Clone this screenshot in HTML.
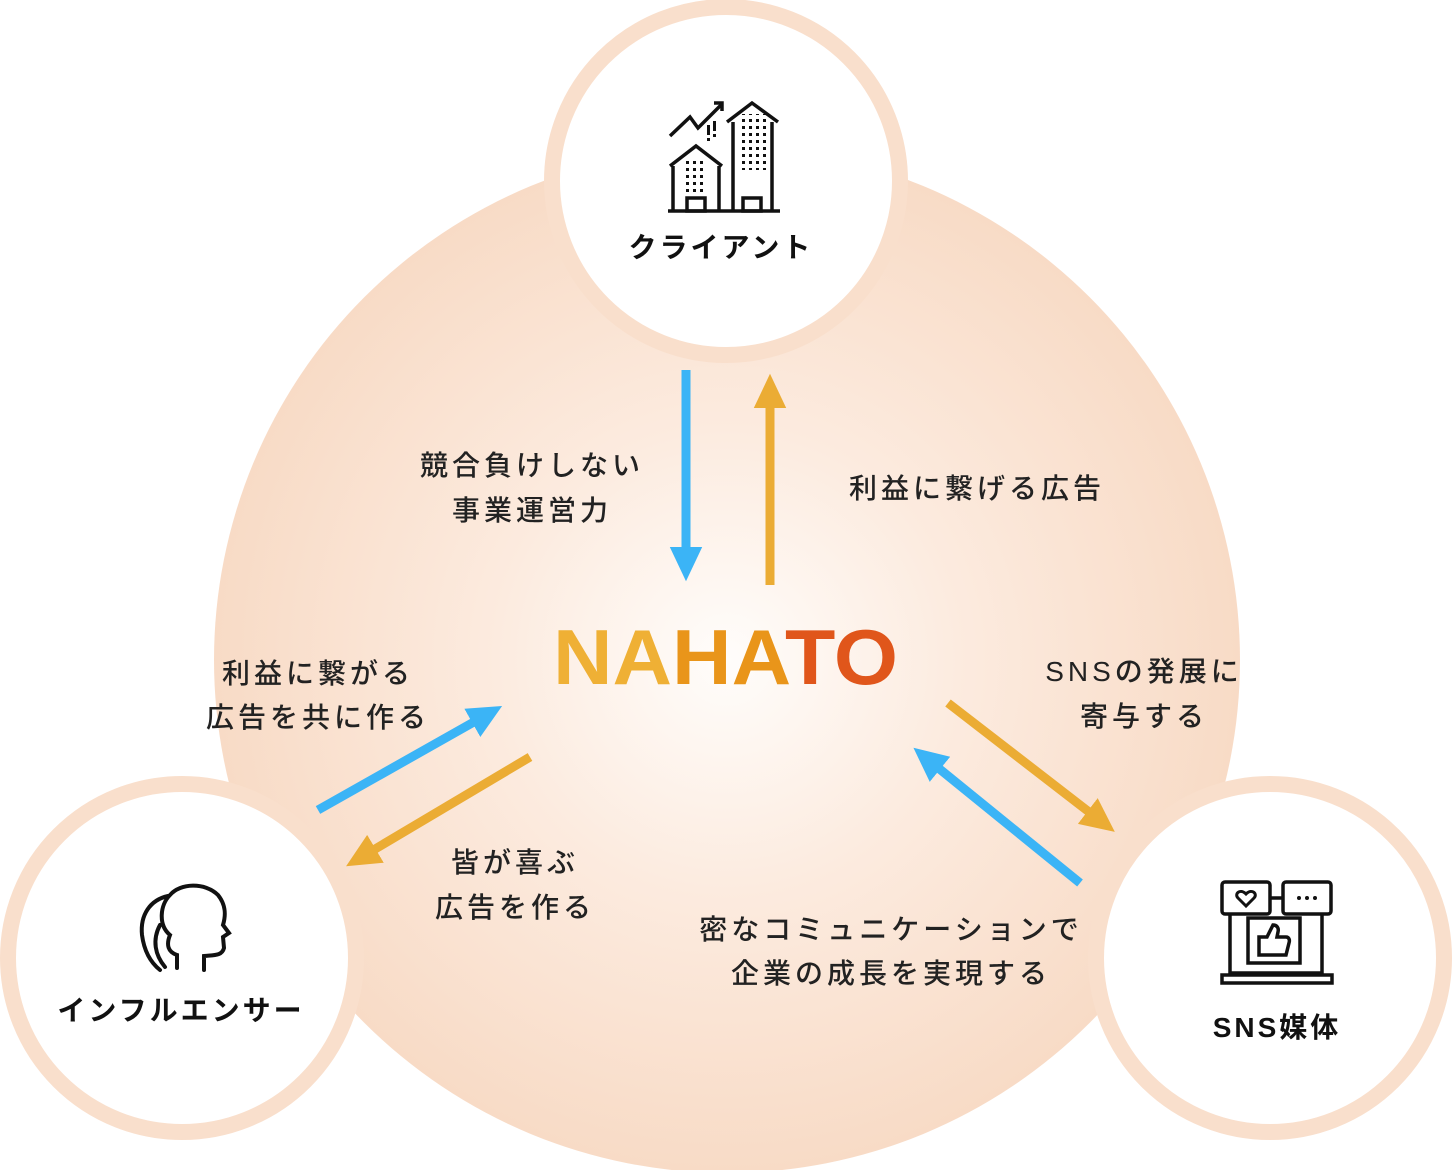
<!DOCTYPE html>
<html><head><meta charset="utf-8"><style>
html,body{margin:0;padding:0;background:#fff;}
body{width:1452px;height:1170px;overflow:hidden;position:relative;font-family:"Liberation Sans","Noto Sans CJK JP",sans-serif;}
svg{position:absolute;left:0;top:0;}
.t{font-family:"Liberation Sans","Noto Sans CJK JP",sans-serif;font-size:28px;fill:#222;font-weight:500;letter-spacing:4px}
.n{font-family:"Liberation Sans","Noto Sans CJK JP",sans-serif;font-size:28px;fill:#111;font-weight:700;letter-spacing:3px}
</style></head><body>
<svg width="1452" height="1170" viewBox="0 0 1452 1170">
<defs>
<radialGradient id="g" cx="727" cy="660" r="513" gradientUnits="userSpaceOnUse">
<stop offset="0" stop-color="#fffdfb"/><stop offset="0.45" stop-color="#fcebdf"/><stop offset="1" stop-color="#f8dbc6"/>
</radialGradient>
<marker id="hb" markerWidth="4" markerHeight="4" refX="2" refY="2" orient="auto" markerUnits="strokeWidth"><path d="M0,0.2 L3.8,2 L0,3.8 Z" fill="#3bb4f6"/></marker>
<marker id="ho" markerWidth="4" markerHeight="4" refX="2" refY="2" orient="auto" markerUnits="strokeWidth"><path d="M0,0.2 L3.8,2 L0,3.8 Z" fill="#ebac34"/></marker>
</defs>
<circle cx="727" cy="660" r="513" fill="url(#g)"/>
<g fill="#fff" stroke="#f9dfcc" stroke-width="16">
<circle cx="726" cy="181" r="174"/>
<circle cx="182" cy="958" r="174"/>
<circle cx="1270" cy="958" r="174"/>
</g>
<g stroke-width="9" fill="none">
<line x1="686" y1="370" x2="686" y2="565" stroke="#3bb4f6" marker-end="url(#hb)"/>
<line x1="770" y1="585" x2="770" y2="390" stroke="#ebac34" marker-end="url(#ho)"/>
<line x1="318" y1="810" x2="488" y2="714" stroke="#3bb4f6" marker-end="url(#hb)"/>
<line x1="530" y1="757" x2="360" y2="858" stroke="#ebac34" marker-end="url(#ho)"/>
<line x1="948" y1="703" x2="1102" y2="822" stroke="#ebac34" marker-end="url(#ho)"/>
<line x1="1080" y1="883" x2="926" y2="758" stroke="#3bb4f6" marker-end="url(#hb)"/>
</g>
<text x="553" y="684" font-family="Liberation Sans,sans-serif" font-weight="700" font-size="78" textLength="345" lengthAdjust="spacingAndGlyphs"><tspan fill="#efb035">NA</tspan><tspan fill="#e9951a">HA</tspan><tspan fill="#e0561b">TO</tspan></text>
<g text-anchor="middle">
<text class="t" x="532" y="475">競合負けしない</text>
<text class="t" x="532" y="520">事業運営力</text>
<text class="t" x="977" y="498">利益に繋げる広告</text>
<text class="t" x="318" y="683">利益に繋がる</text>
<text class="t" x="318" y="727">広告を共に作る</text>
<text class="t" x="515" y="872">皆が喜ぶ</text>
<text class="t" x="515" y="917">広告を作る</text>
<text class="t" x="1144" y="681">SNSの発展に</text>
<text class="t" x="1144" y="726">寄与する</text>
<text class="t" x="891" y="939">密なコミュニケーションで</text>
<text class="t" x="891" y="983">企業の成長を実現する</text>
</g>
<g text-anchor="middle">
<text class="n" x="721" y="257">クライアント</text>
<text class="n" x="181" y="1020">インフルエンサー</text>
<text class="n" x="1277" y="1037">SNS媒体</text>
</g>
<g stroke="#111" stroke-width="3.5" fill="none">
<polyline points="670,136 690,117 698,128 722,104"/>
<polyline points="714,103 722,103 722,111"/>
<line x1="668" y1="211" x2="780" y2="211"/>
<polyline points="670,166 696,146 722,166"/>
<line x1="673" y1="166" x2="673" y2="211"/><line x1="719" y1="166" x2="719" y2="211"/>
<polyline points="727,122 752,103 778,122"/>
<line x1="733" y1="122" x2="733" y2="211"/><line x1="772" y1="122" x2="772" y2="211"/>
<rect x="687" y="198" width="18" height="13"/><rect x="743" y="198" width="18" height="13"/>
</g>
<g fill="#111">
<rect x="707" y="125" width="3" height="10"/><rect x="713" y="121" width="3" height="10"/><rect x="707" y="138" width="3" height="3"/><rect x="713" y="134" width="3" height="3"/>
</g>
<pattern id="dots" x="0" y="0" width="7" height="7" patternUnits="userSpaceOnUse"><rect width="3" height="3" fill="#111"/></pattern>
<rect x="741" y="114" width="25" height="56" fill="url(#dots)"/>
<rect x="682" y="158" width="25" height="35" fill="url(#dots)"/>
<g stroke="#111" stroke-width="4" fill="none" stroke-linecap="round">
<path d="M177,968 L177,955 C168,952 166,945 170,935 C158,925 160,905 170,895 C180,883 205,882 218,895 C226,905 226,915 223,925 L229,933 L223,937 L224,948 C222,956 214,955 204,956 L204,970"/>
<path d="M168,896 C150,900 140,915 142,935 C144,950 150,962 160,970"/>
<path d="M160,925 C152,940 155,955 165,967"/>
</g>
<g stroke="#111" stroke-width="3.5" fill="none">
<rect x="1230" y="898" width="92" height="75"/>
<path d="M1222,975 h110 v8 h-110 z"/>
<rect x="1222" y="882" width="48" height="32" rx="3" fill="#fff"/>
<rect x="1283" y="882" width="48" height="32" rx="3" fill="#fff"/>
<rect x="1248" y="918" width="52" height="45"/>
<path d="M1259,955 v-18 h8 l6,-12 c4,0 6,3 5,7 l-1,5 h9 c3,0 4,3 3,6 l-3,12 h-27 z"/>
</g>
<path d="M1246,906 l-8,-8 c-4,-4 2,-10 8,-4 c6,-6 12,0 8,4 z" fill="none" stroke="#111" stroke-width="3"/>
<g fill="#111"><circle cx="1299" cy="898" r="2"/><circle cx="1307" cy="898" r="2"/><circle cx="1315" cy="898" r="2"/></g>
</svg>
</body></html>
